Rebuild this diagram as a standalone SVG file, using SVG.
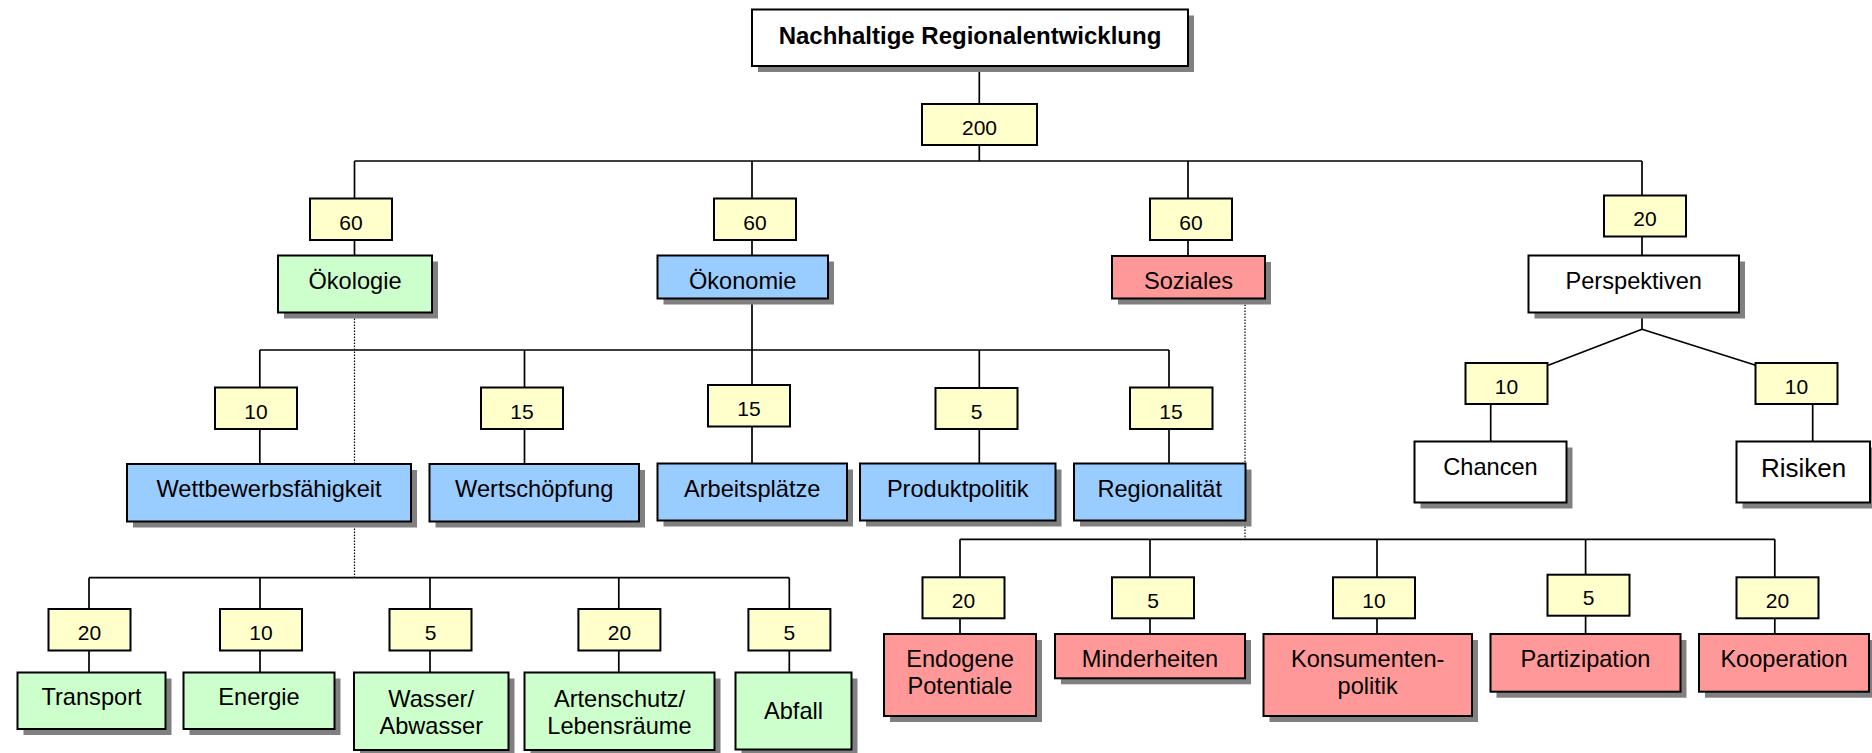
<svg xmlns="http://www.w3.org/2000/svg" width="1872" height="753" viewBox="0 0 1872 753">
  <style>
    .ln { stroke: #000; stroke-width: 1.7; fill: none; }
    .dot { stroke: #000; stroke-width: 1.2; stroke-dasharray: 1.5 1.5; fill: none; }
    .sh { fill: #808080; }
    .bx { stroke: #000; stroke-width: 2; }
    .w { fill: #ffffff; }
    .y { fill: #ffffcc; }
    .g { fill: #ccffcc; }
    .b { fill: #99ccff; }
    .r { fill: #ff9999; }
    text { font-family: "Liberation Sans", Arial, sans-serif; font-size: 23.6px; text-anchor: middle; fill: #000; }
    .n { font-size: 21px; }
    .hd { font-size: 24px; font-weight: bold; }
    .lg { font-size: 26px; }
  </style>
  <rect width="1872" height="753" fill="#ffffff"/>

  <!-- connectors -->
  <g id="connectors">
    <path class="ln" d="M979.3 66 V104 M979.3 145 V161 M354.5 161 H1642 M354.5 161 V198.5 M752 161 V198.5 M1188 161 V198.5 M1642 161 V195.5"/>
    <path class="ln" d="M354.5 240 V255.5 M752 240 V255.5 M1188 240 V256 M1642 236.5 V255.5"/>
    <!-- Ökonomie branch -->
    <path class="ln" d="M752 298.5 V350 M259.8 350 H1169 M259.8 350 V387.5 M524.5 350 V387.5 M752 350 V385 M979.3 350 V388 M1169 350 V387.5"/>
    <path class="ln" d="M259.8 429 V464 M524.5 429 V464 M752 426.5 V463.5 M979.3 429 V463.5 M1169 429 V463.5"/>
    <!-- Ökologie branch -->
    <path class="dot" d="M354.5 312.5 V577.7"/>
    <path class="ln" d="M89 577.7 H789.3 M89 577.7 V609 M260 577.7 V609 M430 577.7 V609 M618.8 577.7 V609 M789.3 577.7 V609"/>
    <path class="ln" d="M89 650.5 V672.5 M260 650.5 V672.5 M430 650.5 V672.5 M618.8 650.5 V672.5 M789.3 650.5 V672.5"/>
    <!-- Soziales branch -->
    <path class="dot" d="M1245 298.5 V539.3"/>
    <path class="ln" d="M960 539.3 H1774.8 M960 539.3 V577.3 M1150 539.3 V577.3 M1377 539.3 V577.3 M1585.6 539.3 V574.7 M1774.8 539.3 V577.3"/>
    <path class="ln" d="M960 618.3 V634 M1150 618.3 V634 M1377 618.3 V634 M1585.6 615.7 V634 M1774.8 618.3 V634"/>
    <!-- Perspektiven branch -->
    <path class="ln" d="M1642 312.5 V329.3 M1642 329.3 L1548.3 365.3 M1642 329.3 L1755.7 365.3"/>
    <path class="ln" d="M1490.7 404 V441.5 M1812.7 404 V441.5"/>
  </g>

  <!-- root -->
  <g id="root">
    <rect class="sh" x="758" y="15.5" width="436" height="56.5"/>
    <rect class="bx w" x="752" y="9.5" width="436" height="56.5"/>
    <text class="hd" x="970" y="43.5">Nachhaltige Regionalentwicklung</text>
  </g>
  <g id="w-root">
    <rect class="bx y" x="922" y="104" width="115" height="41"/>
    <text class="n" x="979.5" y="135">200</text>
  </g>

  <!-- first level -->
  <g id="w-oekologie">
    <rect class="bx y" x="310" y="198.5" width="82" height="41.5"/>
    <text class="n" x="351" y="229.5">60</text>
  </g>
  <g id="oekologie">
    <rect class="sh" x="284" y="261.5" width="154" height="57"/>
    <rect class="bx g" x="278" y="255.5" width="154" height="57"/>
    <text x="355" y="288.5">Ökologie</text>
  </g>
  <g id="w-oekonomie">
    <rect class="bx y" x="714" y="198.5" width="82" height="41.5"/>
    <text class="n" x="755" y="229.5">60</text>
  </g>
  <g id="oekonomie">
    <rect class="sh" x="663.5" y="261.5" width="170.5" height="43"/>
    <rect class="bx b" x="657.5" y="255.5" width="170.5" height="43"/>
    <text x="742.7" y="288.5">Ökonomie</text>
  </g>
  <g id="w-soziales">
    <rect class="bx y" x="1150" y="198.5" width="82" height="41.5"/>
    <text class="n" x="1191" y="229.5">60</text>
  </g>
  <g id="soziales">
    <rect class="sh" x="1118" y="262" width="153" height="42.5"/>
    <rect class="bx r" x="1112" y="256" width="153" height="42.5"/>
    <text x="1188.5" y="288.5">Soziales</text>
  </g>
  <g id="w-perspektiven">
    <rect class="bx y" x="1604" y="195.5" width="82" height="41"/>
    <text class="n" x="1645" y="226">20</text>
  </g>
  <g id="perspektiven">
    <rect class="sh" x="1534.5" y="261.5" width="210.5" height="57"/>
    <rect class="bx w" x="1528.5" y="255.5" width="210.5" height="57"/>
    <text x="1633.7" y="289">Perspektiven</text>
  </g>

  <!-- Ökonomie children -->
  <g id="w-wettbewerb">
    <rect class="bx y" x="215" y="387.5" width="82" height="41.5"/>
    <text class="n" x="256" y="418.5">10</text>
  </g>
  <g id="wettbewerb">
    <rect class="sh" x="133" y="470" width="284" height="57.5"/>
    <rect class="bx b" x="127" y="464" width="284" height="57.5"/>
    <text x="269" y="497">Wettbewerbsfähigkeit</text>
  </g>
  <g id="w-wertschoepfung">
    <rect class="bx y" x="481" y="387.5" width="82" height="41.5"/>
    <text class="n" x="522" y="418.5">15</text>
  </g>
  <g id="wertschoepfung">
    <rect class="sh" x="435.5" y="470" width="209.5" height="57.5"/>
    <rect class="bx b" x="429.5" y="464" width="209.5" height="57.5"/>
    <text x="534.2" y="497">Wertschöpfung</text>
  </g>
  <g id="w-arbeitsplaetze">
    <rect class="bx y" x="708" y="385" width="82" height="41.5"/>
    <text class="n" x="749" y="416">15</text>
  </g>
  <g id="arbeitsplaetze">
    <rect class="sh" x="663.5" y="469.5" width="189.5" height="57"/>
    <rect class="bx b" x="657.5" y="463.5" width="189.5" height="57"/>
    <text x="752.2" y="496.7">Arbeitsplätze</text>
  </g>
  <g id="w-produktpolitik">
    <rect class="bx y" x="935.5" y="388" width="82" height="41"/>
    <text class="n" x="976.5" y="419">5</text>
  </g>
  <g id="produktpolitik">
    <rect class="sh" x="866" y="469.5" width="195.5" height="57"/>
    <rect class="bx b" x="860" y="463.5" width="195.5" height="57"/>
    <text x="957.7" y="496.7">Produktpolitik</text>
  </g>
  <g id="w-regionalitaet">
    <rect class="bx y" x="1130" y="387.5" width="82.5" height="41.5"/>
    <text class="n" x="1171" y="418.5">15</text>
  </g>
  <g id="regionalitaet">
    <rect class="sh" x="1080" y="469.5" width="171.5" height="57"/>
    <rect class="bx b" x="1074" y="463.5" width="171.5" height="57"/>
    <text x="1159.7" y="496.7">Regionalität</text>
  </g>

  <!-- Ökologie children -->
  <g id="w-transport">
    <rect class="bx y" x="48.5" y="609" width="82" height="41.5"/>
    <text class="n" x="89.5" y="639.5">20</text>
  </g>
  <g id="transport">
    <rect class="sh" x="23.5" y="678.5" width="148" height="56.5"/>
    <rect class="bx g" x="17.5" y="672.5" width="148" height="56.5"/>
    <text x="91.5" y="705">Transport</text>
  </g>
  <g id="w-energie">
    <rect class="bx y" x="220" y="609" width="82" height="41.5"/>
    <text class="n" x="261" y="639.5">10</text>
  </g>
  <g id="energie">
    <rect class="sh" x="189.5" y="678.5" width="151" height="56.5"/>
    <rect class="bx g" x="183.5" y="672.5" width="151" height="56.5"/>
    <text x="259" y="705">Energie</text>
  </g>
  <g id="w-wasser">
    <rect class="bx y" x="389.5" y="609" width="82" height="41.5"/>
    <text class="n" x="430.5" y="639.5">5</text>
  </g>
  <g id="wasser">
    <rect class="sh" x="360" y="678.5" width="154.5" height="77.5"/>
    <rect class="bx g" x="354" y="672.5" width="154.5" height="77.5"/>
    <text x="431.2" y="706.5">Wasser/</text>
    <text x="431.2" y="733.5">Abwasser</text>
  </g>
  <g id="w-artenschutz">
    <rect class="bx y" x="578.4" y="609" width="82" height="41.5"/>
    <text class="n" x="619.4" y="639.5">20</text>
  </g>
  <g id="artenschutz">
    <rect class="sh" x="530.5" y="678.5" width="190" height="77.5"/>
    <rect class="bx g" x="524.5" y="672.5" width="190" height="77.5"/>
    <text x="619.5" y="706.5">Artenschutz/</text>
    <text x="619.5" y="733.5">Lebensräume</text>
  </g>
  <g id="w-abfall">
    <rect class="bx y" x="748.4" y="609" width="82" height="41.5"/>
    <text class="n" x="789.4" y="639.5">5</text>
  </g>
  <g id="abfall">
    <rect class="sh" x="741.5" y="678.5" width="116" height="77"/>
    <rect class="bx g" x="735.5" y="672.5" width="116" height="77"/>
    <text x="793.5" y="718.5">Abfall</text>
  </g>

  <!-- Soziales children -->
  <g id="w-endogene">
    <rect class="bx y" x="922.5" y="577.3" width="82" height="41"/>
    <text class="n" x="963.5" y="607.8">20</text>
  </g>
  <g id="endogene">
    <rect class="sh" x="890" y="640" width="152" height="82"/>
    <rect class="bx r" x="884" y="634" width="152" height="82"/>
    <text x="960" y="666.7">Endogene</text>
    <text x="960" y="694">Potentiale</text>
  </g>
  <g id="w-minderheiten">
    <rect class="bx y" x="1112" y="577.3" width="82" height="41"/>
    <text class="n" x="1153" y="607.8">5</text>
  </g>
  <g id="minderheiten">
    <rect class="sh" x="1061" y="640" width="190" height="44.3"/>
    <rect class="bx r" x="1055" y="634" width="190" height="44.3"/>
    <text x="1150" y="666.7">Minderheiten</text>
  </g>
  <g id="w-konsumentenpolitik">
    <rect class="bx y" x="1333" y="577.3" width="82" height="41"/>
    <text class="n" x="1374" y="607.8">10</text>
  </g>
  <g id="konsumentenpolitik">
    <rect class="sh" x="1269.5" y="640" width="208.5" height="82"/>
    <rect class="bx r" x="1263.5" y="634" width="208.5" height="82"/>
    <text x="1367.7" y="666.7">Konsumenten-</text>
    <text x="1367.7" y="694">politik</text>
  </g>
  <g id="w-partizipation">
    <rect class="bx y" x="1547.5" y="574.7" width="82" height="41"/>
    <text class="n" x="1588.5" y="605.2">5</text>
  </g>
  <g id="partizipation">
    <rect class="sh" x="1496.5" y="640" width="190" height="57.7"/>
    <rect class="bx r" x="1490.5" y="634" width="190" height="57.7"/>
    <text x="1585.5" y="666.7">Partizipation</text>
  </g>
  <g id="w-kooperation">
    <rect class="bx y" x="1736.5" y="577.3" width="82" height="41"/>
    <text class="n" x="1777.5" y="607.8">20</text>
  </g>
  <g id="kooperation">
    <rect class="sh" x="1705" y="640" width="170" height="57.7"/>
    <rect class="bx r" x="1699" y="634" width="170" height="57.7"/>
    <text x="1784" y="666.7">Kooperation</text>
  </g>

  <!-- Perspektiven children -->
  <g id="w-chancen">
    <rect class="bx y" x="1465.5" y="363" width="82" height="41"/>
    <text class="n" x="1506.5" y="393.5">10</text>
  </g>
  <g id="chancen">
    <rect class="sh" x="1420.5" y="447.5" width="152" height="61"/>
    <rect class="bx w" x="1414.5" y="441.5" width="152" height="61"/>
    <text x="1490.5" y="475">Chancen</text>
  </g>
  <g id="w-risiken">
    <rect class="bx y" x="1755.5" y="363" width="82" height="41"/>
    <text class="n" x="1796.5" y="393.5">10</text>
  </g>
  <g id="risiken">
    <rect class="sh" x="1742.5" y="447.5" width="133.5" height="61"/>
    <rect class="bx w" x="1736.5" y="441.5" width="133.5" height="61"/>
    <text class="lg" x="1803.5" y="476.7">Risiken</text>
  </g>
</svg>
